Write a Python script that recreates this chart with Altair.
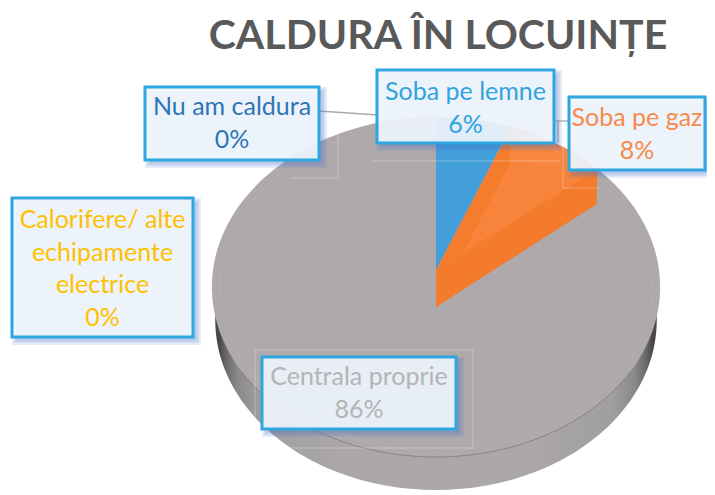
import math
import altair as alt
import pandas as pd

# ---- data
categories = ["Soba pe lemne", "Soba pe gaz", "Nu am caldura", "Calorifere/ alte echipamente electrice", "Centrala proprie"]
shares = [6, 8, 0, 0, 86]
slice_colors = ["#439FDA", "#F58233", "#2E75B6", "#FFC000", "#AFA9AB"]
title_text = "CALDURA ÎN LOCUINȚE"

# ---- layout (page pixels)
OFF = 8
CX, CY, A_X, B_Y, SHIFT_Y, PERSP = 436, 287, 223, 170, -17, -0.1
DEPTH = 33
label_lines = [
    ["Soba pe lemne"], ["Soba pe gaz"], ["Nu am caldura"],
    ["Calorifere/ alte", "echipamente", "electrice"], ["Centrala proprie"],
]
boxes = [(377, 70, 554, 143), (569, 97, 705, 170), (145, 87, 319, 160), (12, 198, 193, 337), (262, 357, 456, 429)]
first_baseline = [100, 126, 115, 228, 385]
text_colors = ["#2FA4E0", "#F58A4B", "#2E75B6", "#FFC000", "#B4B4B6"]
LINE_GAP = 32.7
FONT = "Lato"


def P(theta_deg):
    t = math.radians(theta_deg)
    u, v = math.sin(t), -math.cos(t)
    w = 1 + PERSP * v
    return (CX + A_X * u / w - OFF, CY + (B_Y * v + SHIFT_Y) / w - OFF)


def arc(a, b, step=1.5):
    n = max(2, int(abs(b - a) / step))
    return [P(a + (b - a) * i / n) for i in range(n + 1)]


def feat(points, color, opacity=1.0):
    ring = [list(p) for p in points]
    ring.append(ring[0])
    return {"type": "Feature", "geometry": {"type": "Polygon", "coordinates": [ring]},
            "properties": {"color": color, "opacity": opacity}}


def geo(features, **kw):
    d = alt.InlineData(values={"type": "FeatureCollection", "features": features},
                       format=alt.DataFormat(property="features", type="json"))
    return alt.Chart(d).mark_geoshape(**kw).encode(
        fill=alt.Fill("properties.color:N", scale=None, legend=None),
        opacity=alt.Opacity("properties.opacity:Q", scale=None, legend=None),
    ).project(type="identity", scale=1, translate=[0, 0])


apex = (CX - OFF, 270 - OFF)
angles = []
acc = 0
for s in shares:
    angles.append((acc * 3.6, (acc + s) * 3.6))
    acc += s

# side wall: whole outline pushed down, seen only under the top face
side_pts = [(CX - OFF + (x - CX + OFF) * 0.985, y + DEPTH) for x, y in arc(0, 360)]
side_data = alt.InlineData(values={"type": "FeatureCollection", "features": [feat(side_pts, "x")]},
                           format=alt.DataFormat(property="features", type="json"))
side = alt.Chart(side_data).mark_geoshape(
    stroke=None,
    fill=alt.Gradient(gradient="linear", x1=0, x2=1, y1=0, y2=0, stops=[
        alt.GradientStop(color="#484848", offset=0.01),
        alt.GradientStop(color="#6a6a6a", offset=0.025),
        alt.GradientStop(color="#8a8989", offset=0.05),
        alt.GradientStop(color="#a09e9f", offset=0.1),
        alt.GradientStop(color="#aca8a9", offset=0.3),
        alt.GradientStop(color="#aca8a9", offset=0.7),
        alt.GradientStop(color="#a09e9f", offset=0.9),
        alt.GradientStop(color="#8a8989", offset=0.95),
        alt.GradientStop(color="#6a6a6a", offset=0.975),
        alt.GradientStop(color="#484848", offset=0.99),
    ]),
).project(type="identity", scale=1, translate=[0, 0])

# flat slices (from the shares)
flat = []
for i in (4, 0):
    a, b = angles[i]
    flat.append(feat([apex] + arc(a, b), slice_colors[i]))

# the orange wedge, with its bevelled faces
a, b = angles[1]
B, C = P(a), P(b)
I = (apex[0] + 0.165 * (C[0] - apex[0]), apex[1] + 0.165 * (C[1] - apex[1]))
Bi = (I[0] + 0.63 * (B[0] - apex[0]), I[1] + 0.63 * (B[1] - apex[1]))
Ad = (apex[0], apex[1] + 37)
Cd = (C[0] - 1, C[1] + 35)
wedge = [
    feat([apex] + arc(a, b), "#F47C2C"),
    feat([B] + arc(a, b)[1:] + [Bi], "#F7873F"),
    feat([I, Bi, C], "#F7843A"),
    feat([apex, C, Cd, Ad], "#F37B2B"),
]

# rim lines
rim = alt.Chart(pd.DataFrame([{"x": x, "y": y, "o": i} for i, (x, y) in enumerate(arc(125, 235))])).mark_line(
    color="#6c696a", strokeWidth=0.8, opacity=0.7).encode(
    x=alt.X("x:Q", scale=None, axis=None), y=alt.Y("y:Q", scale=None, axis=None), order="o:Q")
inner_ring = alt.Chart(pd.DataFrame([
    {"x": CX - OFF + (x - CX + OFF) * 0.965, "y": CY - OFF + (y - CY + OFF) * 0.965, "o": i}
    for i, (x, y) in enumerate(arc(0, 360))])).mark_line(
    color="#ffffff", strokeWidth=1, opacity=0.06).encode(
    x=alt.X("x:Q", scale=None, axis=None), y=alt.Y("y:Q", scale=None, axis=None), order="o:Q")

# leader lines and faint frames
leaders = alt.Chart(pd.DataFrame([
    {"x": 319 - OFF, "y": 111 - OFF, "x1": 378 - OFF, "y1": 115 - OFF},
    {"x": 554 - OFF, "y": 121 - OFF, "x1": 569 - OFF, "y1": 121 - OFF},
    {"x": 558 - OFF, "y": 121 - OFF, "x1": 558 - OFF, "y1": 143 - OFF},
])).mark_rule(color="#A9A9A9", strokeWidth=1.3).encode(
    x=alt.X("x:Q", scale=None, axis=None), y=alt.Y("y:Q", scale=None, axis=None), x2="x1:Q", y2="y1:Q")
frames = alt.Chart(pd.DataFrame([
    {"x": 338 - OFF, "y": 115 - OFF, "x1": 338 - OFF, "y1": 178 - OFF},
    {"x": 290 - OFF, "y": 178 - OFF, "x1": 338 - OFF, "y1": 178 - OFF},
    {"x": 371 - OFF, "y": 161 - OFF, "x1": 560 - OFF, "y1": 161 - OFF},
    {"x": 563 - OFF, "y": 125 - OFF, "x1": 563 - OFF, "y1": 188 - OFF},
    {"x": 563 - OFF, "y": 188 - OFF, "x1": 600 - OFF, "y1": 188 - OFF},
    {"x": 255 - OFF, "y": 350 - OFF, "x1": 473 - OFF, "y1": 350 - OFF},
    {"x": 255 - OFF, "y": 350 - OFF, "x1": 255 - OFF, "y1": 448 - OFF},
    {"x": 473 - OFF, "y": 350 - OFF, "x1": 473 - OFF, "y1": 448 - OFF},
    {"x": 255 - OFF, "y": 448 - OFF, "x1": 473 - OFF, "y1": 448 - OFF},
])).mark_rule(color="#ffffff", strokeWidth=1, opacity=0.3).encode(
    x=alt.X("x:Q", scale=None, axis=None), y=alt.Y("y:Q", scale=None, axis=None), x2="x1:Q", y2="y1:Q")

# boxes with a soft shadow
shadow_rows, box_rows, text_rows = [], [], []
for i, (x0, y0, x1, y1) in enumerate(boxes):
    for g in (4, 2, 0):
        shadow_rows.append({"x": x0 + 4 - g - OFF, "y": y0 + 4 - g - OFF, "x1": x1 + 4 + g - OFF, "y1": y1 + 4 + g - OFF})
    box_rows.append({"x": x0 - OFF, "y": y0 - OFF, "x1": x1 - OFF, "y1": y1 - OFF})
    lines = label_lines[i] + [f"{shares[i]}%"]
    for j, t in enumerate(lines):
        text_rows.append({"x": (x0 + x1) / 2 - OFF, "y": first_baseline[i] + j * LINE_GAP - OFF, "t": t, "c": text_colors[i]})


def rect(rows, **kw):
    return alt.Chart(pd.DataFrame(rows)).mark_rect(**kw).encode(
        x=alt.X("x:Q", scale=None, axis=None), y=alt.Y("y:Q", scale=None, axis=None), x2="x1:Q", y2="y1:Q")


shadow = rect(shadow_rows, color="#4472C4", opacity=0.14)
box = rect(box_rows, fill="#F3F7FC", fillOpacity=0.9, stroke="#2EA6E0", strokeWidth=3)
texts = alt.Chart(pd.DataFrame(text_rows)).mark_text(
    font=FONT, fontSize=25, align="center", baseline="alphabetic").encode(
    x=alt.X("x:Q", scale=None, axis=None), y=alt.Y("y:Q", scale=None, axis=None),
    text="t:N", color=alt.Color("c:N", scale=None, legend=None))
title = alt.Chart(pd.DataFrame([{"x": 438 - OFF, "y": 49 - OFF, "t": title_text}])).mark_text(
    font=FONT, fontSize=41, fontWeight="bold", color="#595959", align="center", baseline="alphabetic").encode(
    x=alt.X("x:Q", scale=None, axis=None), y=alt.Y("y:Q", scale=None, axis=None), text="t:N")

chart = alt.layer(
    side, geo(flat, stroke=None), geo(wedge, stroke=None), rim, inner_ring,
    frames, leaders, shadow, box, texts, title,
).properties(
    width=699, height=484, padding=0, background="#ffffff",
    autosize=alt.AutoSizeParams(type="none"),
).configure_view(stroke=None)

chart.save("out.html", embed_options={"renderer": "svg", "actions": False})
